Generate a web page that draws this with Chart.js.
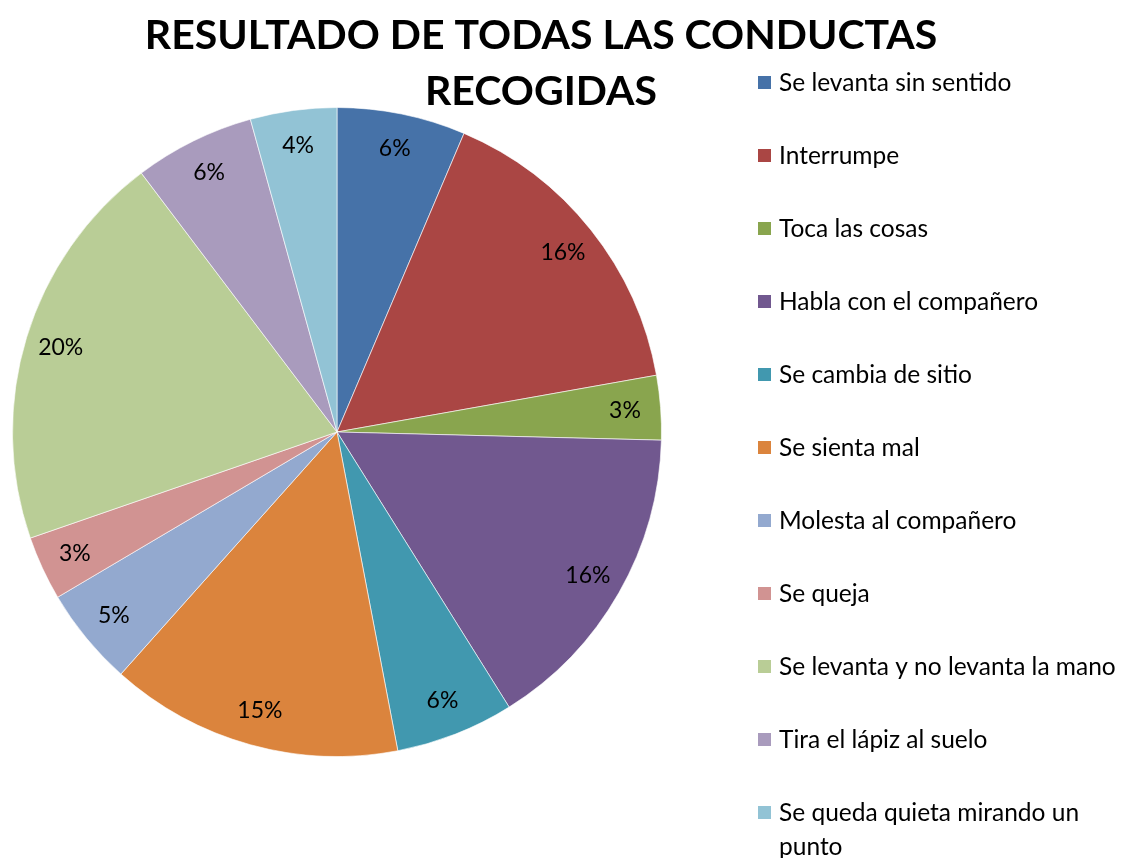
<!DOCTYPE html>
<html>
<head>
<meta charset="utf-8">
<script src="https://cdn.jsdelivr.net/npm/chart.js@4"></script>
<style>
  html, body { margin: 0; padding: 0; background: #ffffff; }
  #wrap { width: 1125px; height: 858px; position: relative; }
</style>
</head>
<body>
<div id="wrap"><canvas id="pieChart" width="1125" height="858"></canvas></div>
<script>
const TITLE_LINES = ["RESULTADO DE TODAS LAS CONDUCTAS", "RECOGIDAS"];

const categories = [
  "Se levanta sin sentido",
  "Interrumpe",
  "Toca las cosas",
  "Habla con el compañero",
  "Se cambia de sitio",
  "Se sienta mal",
  "Molesta al compañero",
  "Se queja",
  "Se levanta y no levanta la mano",
  "Tira el lápiz al suelo",
  "Se queda quieta mirando un punto",
];

const shares = [6.4, 15.8, 3.2, 15.7, 5.9, 14.6, 4.9, 3.2, 20.0, 6.0, 4.3];

const sliceColors = [
  "#4672A8", "#AA4644", "#89A54E", "#71588F", "#4198AF", "#DB843D",
  "#93A9CF", "#D19392", "#B9CD96", "#A99BBD", "#92C3D5",
];

const FONT = "Lato, 'Open Sans', sans-serif";

// title drawn over the top of the pie (like the Excel original)
const titlePlugin = {
  id: "titleText",
  afterDraw(chart) {
    const ctx = chart.ctx;
    ctx.save();
    ctx.fillStyle = "#000000";
    ctx.font = "bold 41px " + FONT;
    ctx.textAlign = "center";
    ctx.textBaseline = "alphabetic";
    ctx.fillText(TITLE_LINES[0], 541, 49);
    ctx.fillText(TITLE_LINES[1], 541, 105);
    ctx.restore();
  },
};

// percentage labels inside the slices
const pctLabels = {
  id: "pctLabels",
  afterDatasetsDraw(chart) {
    const ctx = chart.ctx;
    const meta = chart.getDatasetMeta(0);
    const data = chart.data.datasets[0].data;
    const total = data.reduce((a, b) => a + b, 0);
    ctx.save();
    ctx.fillStyle = "#000000";
    ctx.font = "23px " + FONT;
    ctx.textAlign = "center";
    ctx.textBaseline = "middle";
    meta.data.forEach((arc, i) => {
      const p = arc.getProps(["x", "y", "startAngle", "endAngle", "outerRadius"], true);
      const mid = (p.startAngle + p.endAngle) / 2;
      const r = p.outerRadius * 0.89;
      const txt = Math.round((data[i] / total) * 100) + "%";
      ctx.fillText(txt, p.x + Math.cos(mid) * r, p.y + Math.sin(mid) * r);
    });
    ctx.restore();
  },
};

// legend on the right, one row every 73px
const sideLegend = {
  id: "sideLegend",
  afterDraw(chart) {
    const ctx = chart.ctx;
    const maxW = 1122 - 779;
    ctx.save();
    ctx.font = "24.5px " + FONT;
    ctx.textBaseline = "middle";
    ctx.textAlign = "left";
    categories.forEach((label, i) => {
      const y = 83 + i * 73;
      ctx.fillStyle = sliceColors[i];
      ctx.fillRect(758, y - 7, 13, 13);
      ctx.fillStyle = "#000000";
      if (ctx.measureText(label).width > maxW) {
        // wrap on words
        const words = label.split(" ");
        let line = "";
        let yy = y;
        words.forEach((w) => {
          const test = line ? line + " " + w : w;
          if (ctx.measureText(test).width > maxW && line) {
            ctx.fillText(line, 779, yy);
            line = w;
            yy += 34;
          } else {
            line = test;
          }
        });
        ctx.fillText(line, 779, yy);
      } else {
        ctx.fillText(label, 779, y);
      }
    });
    ctx.restore();
  },
};

new Chart(document.getElementById("pieChart").getContext("2d"), {
  type: "pie",
  data: {
    labels: categories,
    datasets: [
      {
        data: shares,
        backgroundColor: sliceColors,
        borderColor: "rgba(255,255,255,0.6)",
        borderWidth: 1,
      },
    ],
  },
  options: {
    responsive: false,
    animation: false,
    layout: { padding: { left: 12, right: 463, top: 107, bottom: 101 } },
    plugins: {
      legend: { display: false },
      tooltip: { enabled: false },
      title: { display: false },
    },
  },
  plugins: [pctLabels, titlePlugin, sideLegend],
});
</script>
</body>
</html>
